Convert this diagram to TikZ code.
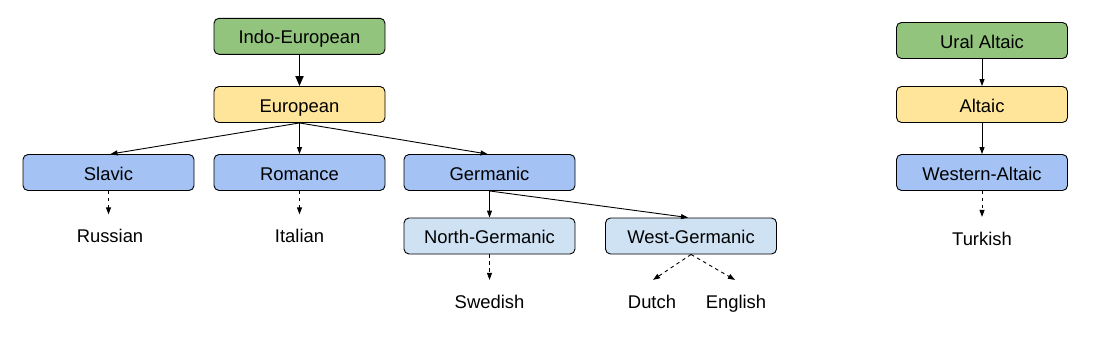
\documentclass[tikz,border=0pt]{standalone}
\usepackage{fontspec}
\setmainfont{Liberation Sans}
\usetikzlibrary{arrows.meta}
\definecolor{cgreen}{HTML}{93C47D}
\definecolor{cyellow}{HTML}{FFE599}
\definecolor{cblue}{HTML}{A4C2F4}
\definecolor{clight}{HTML}{CFE2F3}
\begin{document}
\begin{tikzpicture}[x=1pt,y=-1pt,
  txt/.style={font=\fontsize{18.4}{22}\selectfont,text height=16pt,text depth=0.8pt},
  box/.style={txt,draw=black,line width=0.9pt,rounded corners=5pt,minimum width=171pt,minimum height=36pt,inner sep=0pt},
  leaf/.style={txt,inner sep=3pt},
  conn/.style={line width=0.9pt,-{Triangle[length=7pt,width=5pt]}},
  dconn/.style={conn,dash pattern=on 3.5pt off 3.5pt},
  thick conn/.style={line width=1.8pt,-{Triangle[length=10pt,width=8pt]}}]
\useasboundingbox (0,0) rectangle (1107,354);
\fill[white] (0,0) rectangle (1107,354);
% left tree
\node[box,fill=cgreen] (ie) at (299.5,36.3) {Indo-European};
\node[box,fill=cyellow] (eu) at (299.5,104.5) {European};
\node[box,fill=cblue] (sl) at (108.5,172.5) {Slavic};
\node[box,fill=cblue] (ro) at (299.5,172.5) {Romance};
\node[box,fill=cblue] (ge) at (489.5,172.5) {Germanic};
\node[box,fill=clight] (ng) at (489.5,236) {North-Germanic};
\node[box,fill=clight] (wg) at (691,236) {West-Germanic};
\node[leaf] (ru) at (110,234.5) {Russian};
\node[leaf] (it) at (299.5,234.5) {Italian};
\node[leaf] (sw) at (489.5,300.5) {Swedish};
\node[leaf] (du) at (652,300.5) {Dutch};
\node[leaf] (en) at (736,300.5) {English};
% right tree
\node[box,fill=cgreen] (ua) at (982,40.5) {Ural Altaic};
\node[box,fill=cyellow] (al) at (982,104.5) {Altaic};
\node[box,fill=cblue] (wa) at (982,172.5) {Western-Altaic};
\node[leaf] (tu) at (982,237.5) {Turkish};
% connectors
\draw[thick conn] (ie.south) -- (eu.north);
\draw[conn] (eu.south) -- ([xshift=2pt]sl.north);
\draw[conn] (eu.south) -- (ro.north);
\draw[conn] (eu.south) -- ([xshift=-2pt]ge.north);
\draw[conn] (ge.south) -- (ng.north);
\draw[conn] (ge.south) -- ([xshift=-3pt]wg.north);
\draw[dconn,shorten >=8.5pt] (sl.south) -- (sl.south |- ru.north);
\draw[dconn,shorten >=8.5pt] (ro.south) -- (it.north);
\draw[dconn,shorten >=9pt] (ng.south) -- (sw.north);
\draw[dconn] (wg.south) -- ([shift={(1pt,9pt)}]du.north);
\draw[dconn] (wg.south) -- ([shift={(-1pt,9pt)}]en.north);
\draw[conn] (ua.south) -- (al.north);
\draw[conn] (al.south) -- (wa.north);
\draw[dconn,shorten >=9pt] (wa.south) -- (tu.north);
\end{tikzpicture}
\end{document}
